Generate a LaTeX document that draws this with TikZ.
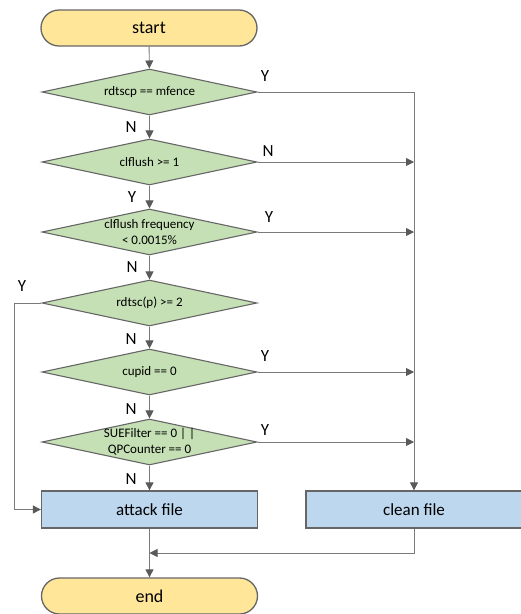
\documentclass[tikz,border=0pt]{standalone}
\usepackage{fontspec}
\setmainfont{Carlito}
\usetikzlibrary{shapes.geometric,arrows.meta}
\definecolor{termfill}{HTML}{FFE699}
\definecolor{diafill}{HTML}{C5E0B4}
\definecolor{procfill}{HTML}{BDD7EE}
\definecolor{bordc}{HTML}{666666}
\definecolor{linec}{HTML}{7A7A7A}
\definecolor{tipc}{HTML}{5A5A5A}
\tikzset{
  term/.style={draw=bordc, line width=1.3pt, fill=termfill, rounded corners=18pt,
    minimum width=216pt, minimum height=36pt, inner sep=0pt, font=\fontsize{18}{21}\selectfont},
  dia/.style={draw=bordc, line width=1.1pt, fill=diafill, diamond,
    minimum width=215pt, minimum height=46pt, inner sep=0pt},
  dtxt/.style={align=center, inner sep=0pt, font=\fontsize{13}{16}\selectfont},
  proc/.style={draw=bordc, line width=1.3pt, fill=procfill,
    minimum width=216pt, minimum height=37pt, inner sep=0pt, font=\fontsize{17}{20}\selectfont},
  arr/.style={draw=linec, line width=0.9pt, -{Triangle[length=8pt,width=8pt,color=tipc]}},
  conn/.style={draw=linec, line width=0.9pt},
  yn/.style={font=\fontsize{17}{20}\selectfont, inner sep=0pt}
}
\begin{document}
\begin{tikzpicture}[x=1pt,y=-1pt]
\useasboundingbox (0,0) rectangle (521,614);
% nodes
\node[term] (start) at (149,28) {start};
\node[dia, label={[dtxt]center:rdtscp == mfence}] (d1) at (149.5,92) {};
\node[dia, label={[dtxt]center:clflush >= 1}] (d2) at (149.5,162) {};
\node[dia, label={[dtxt]center:clflush frequency\\< 0.0015\%}] (d3) at (149.5,232) {};
\node[dia, label={[dtxt]center:rdtsc(p) >= 2}] (d4) at (149.5,303) {};
\node[dia, label={[dtxt]center:cupid == 0}] (d5) at (149.5,372) {};
\node[dia, label={[dtxt]center:SUEFilter == 0 | |\\QPCounter == 0}] (d6) at (149.5,442) {};
\node[proc] (attack) at (149.5,509.5) {attack file};
\node[proc] (clean) at (414,509.5) {clean file};
\node[term] (end) at (149.5,596) {end};
% helper coordinates
\coordinate (lx) at (14,0);
\coordinate (join) at (149.5,553);
% vertical flow
\draw[arr] (start) -- (d1);
\draw[arr] (d1) -- (d2);
\draw[arr] (d2) -- (d3);
\draw[arr] (d3) -- (d4);
\draw[arr] (d4) -- (d5);
\draw[arr] (d5) -- (d6);
\draw[arr] (d6) -- (attack);
\draw[arr] (attack) -- (end);
% right branch
\draw[arr] (d1.east) -| (clean.north);
\draw[arr] (d2.east) -- (d2.east -| clean.north);
\draw[arr] (d3.east) -- (d3.east -| clean.north);
\draw[arr] (d5.east) -- (d5.east -| clean.north);
\draw[arr] (d6.east) -- (d6.east -| clean.north);
% left branch
\draw[arr] (d4.west) -- (d4.west -| lx) |- (attack.west);
% clean to end
\draw[arr] (clean.south) |- (join);
% labels
\node[yn] (y1) at (265,76) {Y};
\node[yn] (n1) at (131,127) {N};
\node[yn] (n2) at (268,151) {N};
\node[yn] (y2) at (132,197) {Y};
\node[yn] (y3) at (269,217) {Y};
\node[yn] (n3) at (132,267) {N};
\node[yn] (y4) at (22,286) {Y};
\node[yn] (n4) at (131,339) {N};
\node[yn] (y5) at (265,356) {Y};
\node[yn] (n5) at (131,409) {N};
\node[yn] (y6) at (265,430) {Y};
\node[yn] (n6) at (131,479) {N};
\end{tikzpicture}
\end{document}
